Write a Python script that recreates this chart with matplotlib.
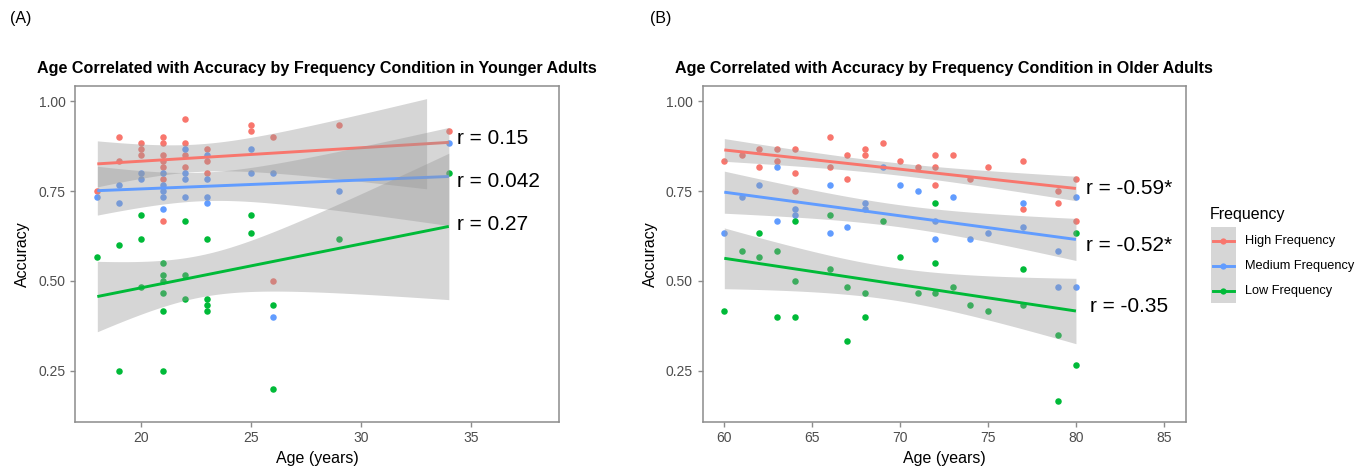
import numpy as np
import matplotlib
matplotlib.use("Agg")
import matplotlib.pyplot as plt
from matplotlib.lines import Line2D
from matplotlib.patches import Rectangle

plt.rcParams['font.family'] = ['Liberation Sans', 'DejaVu Sans']

groups = ["High Frequency", "Medium Frequency", "Low Frequency"]
colors = ["#F8766D", "#619CFF", "#00BA38"]

# panel A - younger adults
young_high_age = [18, 19, 19, 20, 20, 20, 21, 21, 21, 21, 21, 21, 21, 22, 22, 22, 22,
                  23, 23, 23, 25, 25, 26, 26, 29, 34]
young_high_acc = [0.75, 0.90, 0.833, 0.883, 0.867, 0.85, 0.90, 0.883, 0.85, 0.833, 0.817,
                  0.783, 0.667, 0.95, 0.883, 0.85, 0.817, 0.867, 0.833, 0.80, 0.933, 0.917,
                  0.90, 0.50, 0.933, 0.917]
young_med_age = [18, 19, 19, 20, 20, 21, 21, 21, 21, 21, 22, 22, 22, 22, 23, 23, 23, 23,
                 25, 25, 26, 26, 29, 34]
young_med_acc = [0.733, 0.767, 0.717, 0.80, 0.783, 0.80, 0.767, 0.75, 0.733, 0.70, 0.867,
                 0.80, 0.783, 0.733, 0.85, 0.783, 0.733, 0.717, 0.867, 0.80, 0.80, 0.40,
                 0.75, 0.883]
young_low_age = [18, 19, 19, 20, 20, 20, 21, 21, 21, 21, 21, 21, 22, 22, 22, 23, 23, 23, 23,
                 25, 25, 26, 26, 29, 34]
young_low_acc = [0.567, 0.60, 0.25, 0.683, 0.617, 0.483, 0.55, 0.517, 0.50, 0.467, 0.417,
                 0.25, 0.667, 0.517, 0.45, 0.617, 0.45, 0.433, 0.417, 0.683, 0.633, 0.433,
                 0.20, 0.617, 0.80]
young_r = ["r = 0.15", "r = 0.042", "r = 0.27"]

# panel B - older adults
old_high_age = [60, 61, 62, 62, 63, 63, 64, 64, 64, 66, 66, 67, 67, 68, 68, 69, 70, 71,
                72, 72, 72, 73, 74, 75, 77, 77, 79, 79, 80, 80]
old_high_acc = [0.833, 0.85, 0.867, 0.817, 0.867, 0.833, 0.867, 0.80, 0.75, 0.90, 0.817,
                0.85, 0.783, 0.867, 0.85, 0.883, 0.833, 0.817, 0.85, 0.817, 0.767, 0.85,
                0.783, 0.817, 0.833, 0.70, 0.75, 0.717, 0.783, 0.667]
old_med_age = [60, 61, 62, 63, 63, 64, 64, 66, 66, 67, 68, 68, 69, 70, 71, 72, 72, 73, 74,
               75, 77, 77, 79, 79, 80, 80]
old_med_acc = [0.633, 0.733, 0.767, 0.817, 0.667, 0.70, 0.683, 0.767, 0.633, 0.65, 0.717,
               0.70, 0.817, 0.767, 0.75, 0.667, 0.617, 0.733, 0.617, 0.633, 0.717, 0.65,
               0.583, 0.483, 0.733, 0.483]
old_low_age = [60, 61, 62, 62, 63, 63, 64, 64, 64, 66, 66, 67, 67, 68, 68, 69, 70, 71,
               72, 72, 72, 73, 74, 75, 77, 77, 79, 79, 80, 80]
old_low_acc = [0.417, 0.583, 0.633, 0.567, 0.583, 0.40, 0.667, 0.50, 0.40, 0.683, 0.533,
               0.483, 0.333, 0.467, 0.40, 0.667, 0.567, 0.467, 0.717, 0.55, 0.467, 0.483,
               0.433, 0.417, 0.533, 0.433, 0.35, 0.167, 0.633, 0.267]
old_r = ["r = -0.59*", "r = -0.52*", "r = -0.35"]


def t975(df):
    # rough t quantile (cornish-fisher), no scipy here
    z = 1.959964
    return z + (z**3 + z) / (4 * df) + (5 * z**5 + 16 * z**3 + 3 * z) / (96 * df**2)


def smooth(ax, x, y, color, x_end=None):
    x = np.asarray(x, float)
    y = np.asarray(y, float)
    n = len(x)
    b, a = np.polyfit(x, y, 1)
    xs = np.linspace(x.min(), x.max(), 80)
    fit = a + b * xs
    s = np.sqrt(np.sum((y - (a + b * x))**2) / (n - 2))
    sxx = np.sum((x - x.mean())**2)
    se = s * np.sqrt(1 / n + (xs - x.mean())**2 / sxx)
    half = t975(n - 2) * se
    m = xs <= (x_end if x_end is not None else x.max()) + 1e-9
    ax.fill_between(xs[m], fit[m] - half[m], fit[m] + half[m], color="#999999",
                    alpha=0.4, lw=0, zorder=3)
    ax.plot(xs, fit, color=color, lw=2.1, zorder=3, solid_capstyle="butt")


def panel(ax, series, band_ends, xlim, xticks, title, rlabels, rpos):
    for (x, y), c in zip(series, colors):
        ax.scatter(x, y, s=22, color=c, lw=0, zorder=2)
    for (x, y), c, e in zip(series, colors, band_ends):
        smooth(ax, x, y, c, e)
    for lab, (tx, ty) in zip(rlabels, rpos):
        ax.text(tx, ty, lab, fontsize=15, va="center", ha="left", zorder=5)
    ax.set_xlim(*xlim)
    ax.set_ylim(0.108, 1.043)
    ax.set_xticks(xticks)
    ax.set_yticks([0.25, 0.50, 0.75, 1.00])
    ax.set_yticklabels(["0.25", "0.50", "0.75", "1.00"])
    for sp in ax.spines.values():
        sp.set_color("#8C8C8C")
        sp.set_linewidth(1.1)
    ax.tick_params(colors="#8C8C8C", labelcolor="#4D4D4D", labelsize=10,
                   length=3.5, width=1)
    ax.set_xlabel("Age (years)", fontsize=11.5, labelpad=4)
    ax.set_ylabel("Accuracy", fontsize=11.5, labelpad=6)
    ax.set_title(title, fontsize=11.6, fontweight="bold", pad=9)


fig = plt.figure(figsize=(13.7, 4.72), dpi=100)
axA = fig.add_axes([0.055, 0.1066, 0.3528, 0.7112])
axB = fig.add_axes([0.5129, 0.1066, 0.3528, 0.7112])

panel(axA,
      [(young_high_age, young_high_acc), (young_med_age, young_med_acc),
       (young_low_age, young_low_acc)],
      [33, None, None], (17.0, 39.0), [20, 25, 30, 35],
      "Age Correlated with Accuracy by Frequency Condition in Younger Adults",
      young_r, [(34.36, 0.898), (34.36, 0.776), (34.36, 0.658)])
panel(axB,
      [(old_high_age, old_high_acc), (old_med_age, old_med_acc),
       (old_low_age, old_low_acc)],
      [None, None, None], (58.77, 86.26), [60, 65, 70, 75, 80, 85],
      "Age Correlated with Accuracy by Frequency Condition in Older Adults",
      old_r, [(80.6, 0.758), (80.6, 0.598), (80.82, 0.428)])

fig.text(10 / 1370, 1 - 18 / 472, "(A)", fontsize=11.5, va="center", ha="left")
fig.text(650 / 1370, 1 - 18 / 472, "(B)", fontsize=11.5, va="center", ha="left")

# legend, built by hand to get the ggplot look
W, H = 1370.0, 472.0
fig.text(1210 / W, 1 - 214 / H, "Frequency", fontsize=11.5, va="center", ha="left")
fig.patches.append(Rectangle((1210.5 / W, 1 - 303 / H), 25.5 / W, 76 / H,
                             transform=fig.transFigure, color="#D6D6D6", lw=0))
for k, (g, c) in enumerate(zip(groups, colors)):
    yk = 1 - (241 + 24.8 * k) / H
    fig.lines.append(Line2D([1213 / W, 1233.5 / W], [yk, yk], transform=fig.transFigure,
                            color=c, lw=2.1))
    fig.lines.append(Line2D([1223.2 / W], [yk], transform=fig.transFigure, color=c,
                            marker="o", ms=4.5, mew=0, ls=""))
    fig.text(1245 / W, yk, g, fontsize=9.2, va="center", ha="left")

fig.savefig("out.png", dpi=100)
